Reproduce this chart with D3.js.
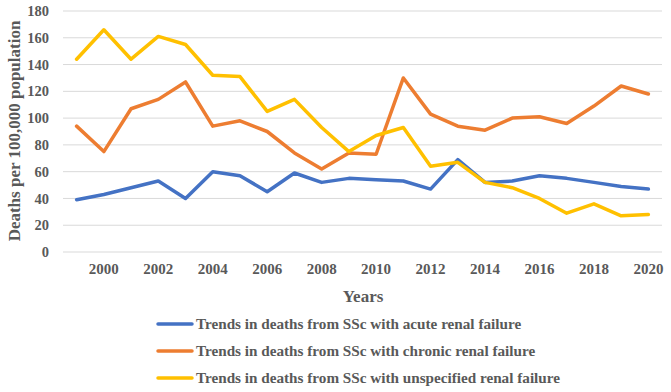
<!DOCTYPE html>
<html><head><meta charset="utf-8">
<script src="https://cdn.jsdelivr.net/npm/d3@7"></script>
<style>body{margin:0;background:#fff}svg{display:block}</style>
</head><body><svg id="c" width="671" height="392"></svg>
<script>
const years = [1999,2000,2001,2002,2003,2004,2005,2006,2007,2008,2009,2010,2011,2012,2013,2014,2015,2016,2017,2018,2019,2020];
const acute = [39,43,48,53,40,60,57,45,59,52,55,54,53,47,69,52,53,57,55,52,49,47];
const chronic = [94,75,107,114,127,94,98,90,74,62,74,73,130,103,94,91,100,101,96,109,124,118];
const unspecified = [144,166,144,161,155,132,131,105,114,93,75,87,93,64,67,52,48,40,29,36,27,28];
const yTicks = [0,20,40,60,80,100,120,140,160,180];
const seriesNames = ["Trends in deaths from SSc with acute renal failure","Trends in deaths from SSc with chronic renal failure","Trends in deaths from SSc with unspecified renal failure"];
const colors = ["#4472C4","#ED7D31","#FFC000"];
const series = [acute, chronic, unspecified];

const svg = d3.select("#c");
const font = "'Liberation Serif','Times New Roman',serif";
const grey = "#595959";
const x = d3.scaleBand().domain(years).range([63,662]);
const y = d3.scaleLinear().domain([0,180]).range([252,11]);

const grid = svg.append("g");
grid.selectAll("line").data(yTicks).join("line")
  .attr("x1",63).attr("x2",662).attr("y1",d=>y(d)).attr("y2",d=>y(d))
  .attr("stroke","#d9d9d9").attr("stroke-width",1);

const yAxis = svg.append("g").attr("transform","translate(49,0)")
  .call(d3.axisLeft(y).tickValues(yTicks).tickSize(0).tickPadding(0));
yAxis.select(".domain").remove();
yAxis.selectAll("text").attr("font-family",font).attr("font-weight","bold").attr("font-size",14.5).attr("fill",grey);

const xAxis = svg.append("g").attr("transform","translate(0,263)")
  .call(d3.axisBottom(x).tickValues(years.filter(d=>d%2===0)).tickSize(0).tickPadding(0));
xAxis.select(".domain").remove();
xAxis.selectAll("text").attr("font-family",font).attr("font-weight","bold").attr("font-size",15).attr("fill",grey);

const line = d3.line().x((d,i)=>x(years[i])+x.bandwidth()/2).y(d=>y(d));
series.forEach((s,k)=>{
  svg.append("path").datum(s).attr("d",line).attr("fill","none")
    .attr("stroke",colors[k]).attr("stroke-width",3.5).attr("stroke-linejoin","round").attr("stroke-linecap","round");
});

svg.append("text").attr("transform","translate(20,131) rotate(-90)").attr("text-anchor","middle")
  .attr("font-family",font).attr("font-weight","bold").attr("font-size",17).attr("fill",grey)
  .text("Deaths per 100,000 population");
svg.append("text").attr("x",363).attr("y",302).attr("text-anchor","middle")
  .attr("font-family",font).attr("font-weight","bold").attr("font-size",17).attr("fill",grey).text("Years");

const leg = svg.append("g");
seriesNames.forEach((n,k)=>{
  const ly = 324 + k*27;
  leg.append("line").attr("x1",158).attr("x2",192).attr("y1",ly).attr("y2",ly)
    .attr("stroke",colors[k]).attr("stroke-width",3.5).attr("stroke-linecap","round");
  leg.append("text").attr("x",196).attr("y",ly+5).attr("font-family",font).attr("font-weight","bold")
    .attr("font-size",15.2).attr("fill",grey).text(n);
});
</script></body></html>
